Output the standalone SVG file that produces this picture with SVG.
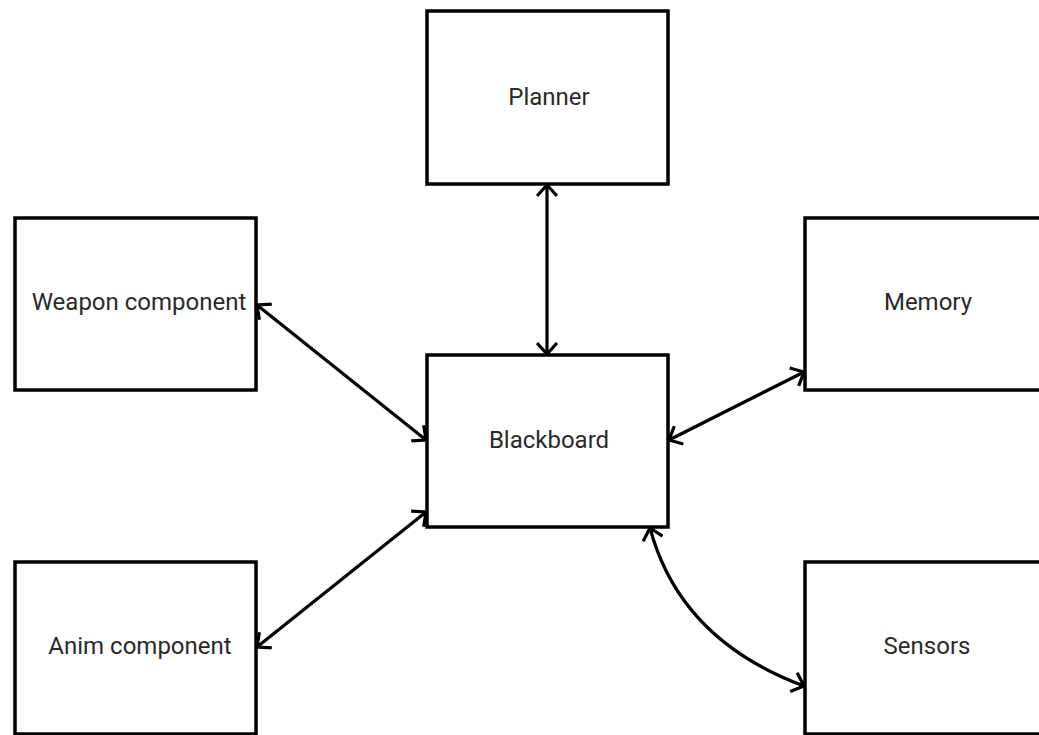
<svg xmlns="http://www.w3.org/2000/svg" width="1039" height="735" viewBox="0 0 1039 735">
  <style>
    .box { fill: #ffffff; stroke: #000000; stroke-width: 3.5; }
    .label { font-family: Roboto, "Liberation Sans", sans-serif; font-size: 24px; fill: #2a2a2a; text-anchor: middle; dominant-baseline: central; }
    .link { fill: none; stroke: #000000; stroke-width: 3.2; marker-start: url(#chev); marker-end: url(#chev); }
  </style>
  <defs>
    <marker id="chev" viewBox="-14 -11 16 22" refX="0" refY="0" markerWidth="16" markerHeight="22" markerUnits="userSpaceOnUse" orient="auto-start-reverse">
      <path d="M-11,-10 L0,0 L-11,10" fill="none" stroke="#000000" stroke-width="3.2"/>
    </marker>
  </defs>
  <rect width="1039" height="735" fill="#ffffff"/>

  <g id="node-planner">
    <rect class="box" x="427" y="11" width="241" height="173"/>
    <text class="label" x="549" y="97">Planner</text>
  </g>
  <g id="node-weapon">
    <rect class="box" x="15" y="218" width="241" height="172"/>
    <text class="label" x="139" y="302">Weapon component</text>
  </g>
  <g id="node-blackboard">
    <rect class="box" x="427" y="355" width="241" height="172"/>
    <text class="label" x="549" y="440">Blackboard</text>
  </g>
  <g id="node-memory">
    <rect class="box" x="805" y="218" width="240" height="172"/>
    <text class="label" x="928" y="302">Memory</text>
  </g>
  <g id="node-anim">
    <rect class="box" x="15" y="562" width="241" height="172"/>
    <text class="label" x="140" y="646">Anim component</text>
  </g>
  <g id="node-sensors">
    <rect class="box" x="805" y="562" width="240" height="172"/>
    <text class="label" x="927" y="646">Sensors</text>
  </g>

  <g id="connectors">
    <path class="link" d="M547,185 L547,354"/>
    <path class="link" d="M257,305 L426,440"/>
    <path class="link" d="M257,647 L426,512"/>
    <path class="link" d="M804,372 L669,440"/>
    <path class="link" d="M650,528 Q680,640 804,686"/>
  </g>
</svg>
